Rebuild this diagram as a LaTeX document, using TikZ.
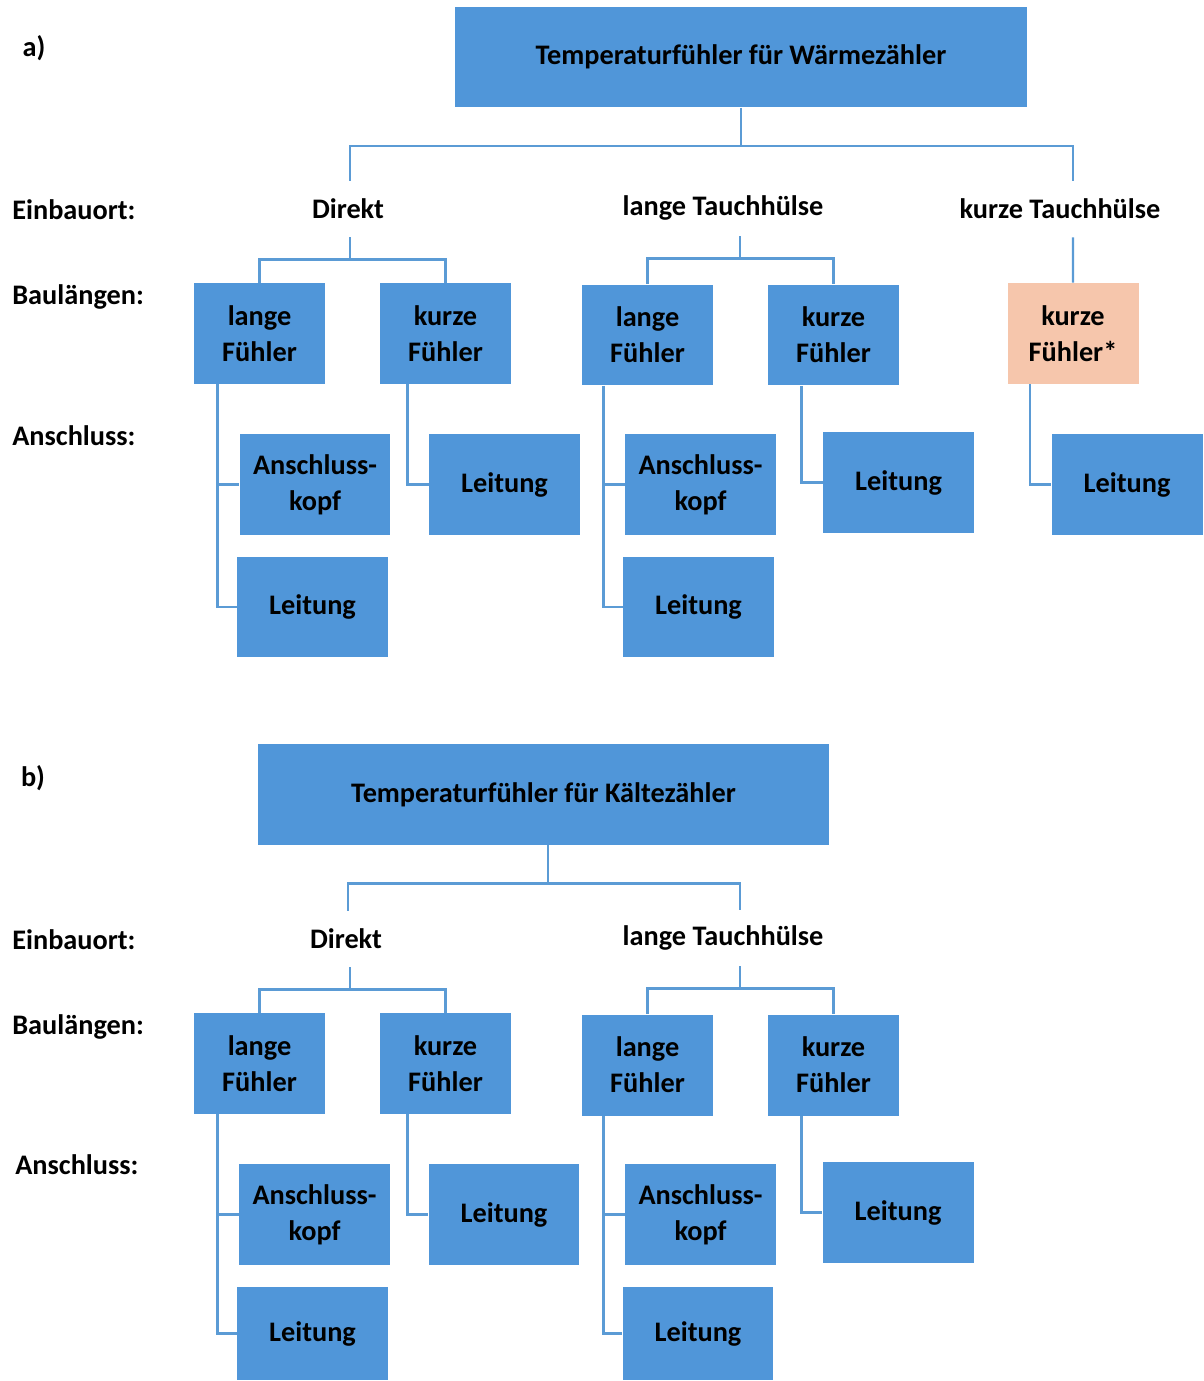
\documentclass[tikz,border=0pt]{standalone}
\usepackage{fontspec}
\setmainfont{Carlito}
\definecolor{boxblau}{RGB}{80,150,217}
\definecolor{lachs}{RGB}{246,198,172}
\definecolor{linienblau}{RGB}{91,155,213}

\begin{document}
\begin{tikzpicture}[x=0.02cm,y=-0.02cm,
        every node/.style={font=\bfseries\fontsize{16.1}{20.6}\selectfont, inner sep=0pt},
        kasten/.style={fill=boxblau, align=center, minimum height=2.02cm},
        fuehler/.style={kasten, minimum width=2.62cm},
        teil/.style={kasten, minimum width=3.02cm},
        ort/.style={minimum height=1.12cm},
        linie/.style={draw=linienblau, line width=1.4pt}]
        \useasboundingbox (0,0) rectangle (1203,1381);
        % a) Waermezaehler
        \node (labela) at (34,48) {a)};
        \node[kasten, minimum width=11.44cm] (wz) at (741,57) {Temperaturfühler für Wärmezähler};
        \node[anchor=west] (wzEin) at (12,210) {Einbauort:};
        \node[anchor=west] (wzBau) at (12,297) {Baulängen:};
        \node[anchor=west] (wzAn) at (12,436) {Anschluss:};
        \node[ort] (wzD) at (348,209) {Direkt};
        \node[ort] (wzL) at (723,208) {lange Tauchhülse};
        \node[ort] (wzK) at (1060,209) {kurze Tauchhülse};
        \node[fuehler] (wzDl) at (259.5,333.5) {lange\\Fühler};
        \node[fuehler] (wzDk) at (445.5,333.5) {kurze\\Fühler};
        \node[fuehler] (wzLl) at (647.5,335) {lange\\Fühler};
        \node[fuehler] (wzLk) at (833.5,335) {kurze\\Fühler};
        \node[fuehler, fill=lachs] (wzKk) at (1073,333.5) {kurze\\Fühler*};
        \node[teil] (wzDlA) at (315,484.5) {Anschluss-\\kopf};
        \node[teil] (wzDlL) at (312.5,607) {Leitung};
        \node[teil] (wzDkL) at (504.5,484.5) {Leitung};
        \node[teil] (wzLlA) at (700.5,484.5) {Anschluss-\\kopf};
        \node[teil] (wzLlL) at (698.5,607) {Leitung};
        \node[teil] (wzLkL) at (898.5,482.5) {Leitung};
        \node[teil] (wzKkL) at (1127,484.5) {Leitung};
        % Linien a)
        \draw[linie] (wz.south) -- ++(0,38) -| ([xshift=0.04cm]wzD.north);
        \draw[linie] (wz.south) -- ++(0,38) -| ([xshift=0.26cm]wzK.north);
        \draw[linie] ([xshift=0.04cm]wzD.south) -- ++(0,22) -| (wzDl.north);
        \draw[linie] ([xshift=0.04cm]wzD.south) -- ++(0,22) -| (wzDk.north);
        \draw[linie] ([xshift=0.34cm]wzL.south) -- ++(0,22) -| (wzLl.north);
        \draw[linie] ([xshift=0.34cm]wzL.south) -- ++(0,22) -| (wzLk.north);
        \draw[linie] ([xshift=0.26cm]wzK.south) -- (wzKk.north);
        \draw[linie] ([xshift=0.48cm]wzDl.south west) |- (wzDlA.west);
        \draw[linie] ([xshift=0.48cm]wzDl.south west) |- (wzDlL.west);
        \draw[linie] ([xshift=0.56cm]wzDk.south west) |- (wzDkL.west);
        \draw[linie] ([xshift=0.44cm]wzLl.south west) |- (wzLlA.west);
        \draw[linie] ([xshift=0.44cm]wzLl.south west) |- (wzLlL.west);
        \draw[linie] ([xshift=0.68cm]wzLk.south west) |- (wzLkL.west);
        \draw[linie] ([xshift=0.46cm]wzKk.south west) |- (wzKkL.west);

        % b) Kaeltezaehler
        \node (labelb) at (33,778) {b)};
        \node[kasten, minimum width=11.42cm] (kz) at (543.5,794.5) {Temperaturfühler für Kältezähler};
        \node[anchor=west] (kzEin) at (12,940) {Einbauort:};
        \node[anchor=west] (kzBau) at (12,1027) {Baulängen:};
        \node[anchor=west] (kzAn) at (15,1165) {Anschluss:};
        \node[ort] (kzD) at (346,939) {Direkt};
        \node[ort] (kzL) at (723,938) {lange Tauchhülse};
        \node[fuehler] (kzDl) at (259.5,1063.5) {lange\\Fühler};
        \node[fuehler] (kzDk) at (445.5,1063.5) {kurze\\Fühler};
        \node[fuehler] (kzLl) at (647.5,1065) {lange\\Fühler};
        \node[fuehler] (kzLk) at (833.5,1065) {kurze\\Fühler};
        \node[teil] (kzDlA) at (314.5,1214.5) {Anschluss-\\kopf};
        \node[teil, minimum height=1.86cm] (kzDlL) at (312.5,1333.5) {Leitung};
        \node[teil] (kzDkL) at (504,1214.5) {Leitung};
        \node[teil] (kzLlA) at (700.5,1214.5) {Anschluss-\\kopf};
        \node[teil, minimum height=1.86cm] (kzLlL) at (698,1333.5) {Leitung};
        \node[teil] (kzLkL) at (898,1212.5) {Leitung};
        % Linien b)
        \draw[linie] ([xshift=0.09cm]kz.south) -- ++(0,38) -| ([xshift=0.04cm]kzD.north);
        \draw[linie] ([xshift=0.09cm]kz.south) -- ++(0,38) -| ([xshift=0.34cm]kzL.north);
        \draw[linie] ([xshift=0.08cm]kzD.south) -- ++(0,22) -| (kzDl.north);
        \draw[linie] ([xshift=0.08cm]kzD.south) -- ++(0,22) -| (kzDk.north);
        \draw[linie] ([xshift=0.34cm]kzL.south) -- ++(0,22) -| (kzLl.north);
        \draw[linie] ([xshift=0.34cm]kzL.south) -- ++(0,22) -| (kzLk.north);
        \draw[linie] ([xshift=0.48cm]kzDl.south west) |- (kzDlA.west);
        \draw[linie] ([xshift=0.48cm]kzDl.south west) |- (kzDlL.west);
        \draw[linie] ([xshift=0.56cm]kzDk.south west) |- (kzDkL.west);
        \draw[linie] ([xshift=0.44cm]kzLl.south west) |- (kzLlA.west);
        \draw[linie] ([xshift=0.44cm]kzLl.south west) |- (kzLlL.west);
        \draw[linie] ([xshift=0.68cm]kzLk.south west) |- (kzLkL.west);
\end{tikzpicture}
\end{document}
